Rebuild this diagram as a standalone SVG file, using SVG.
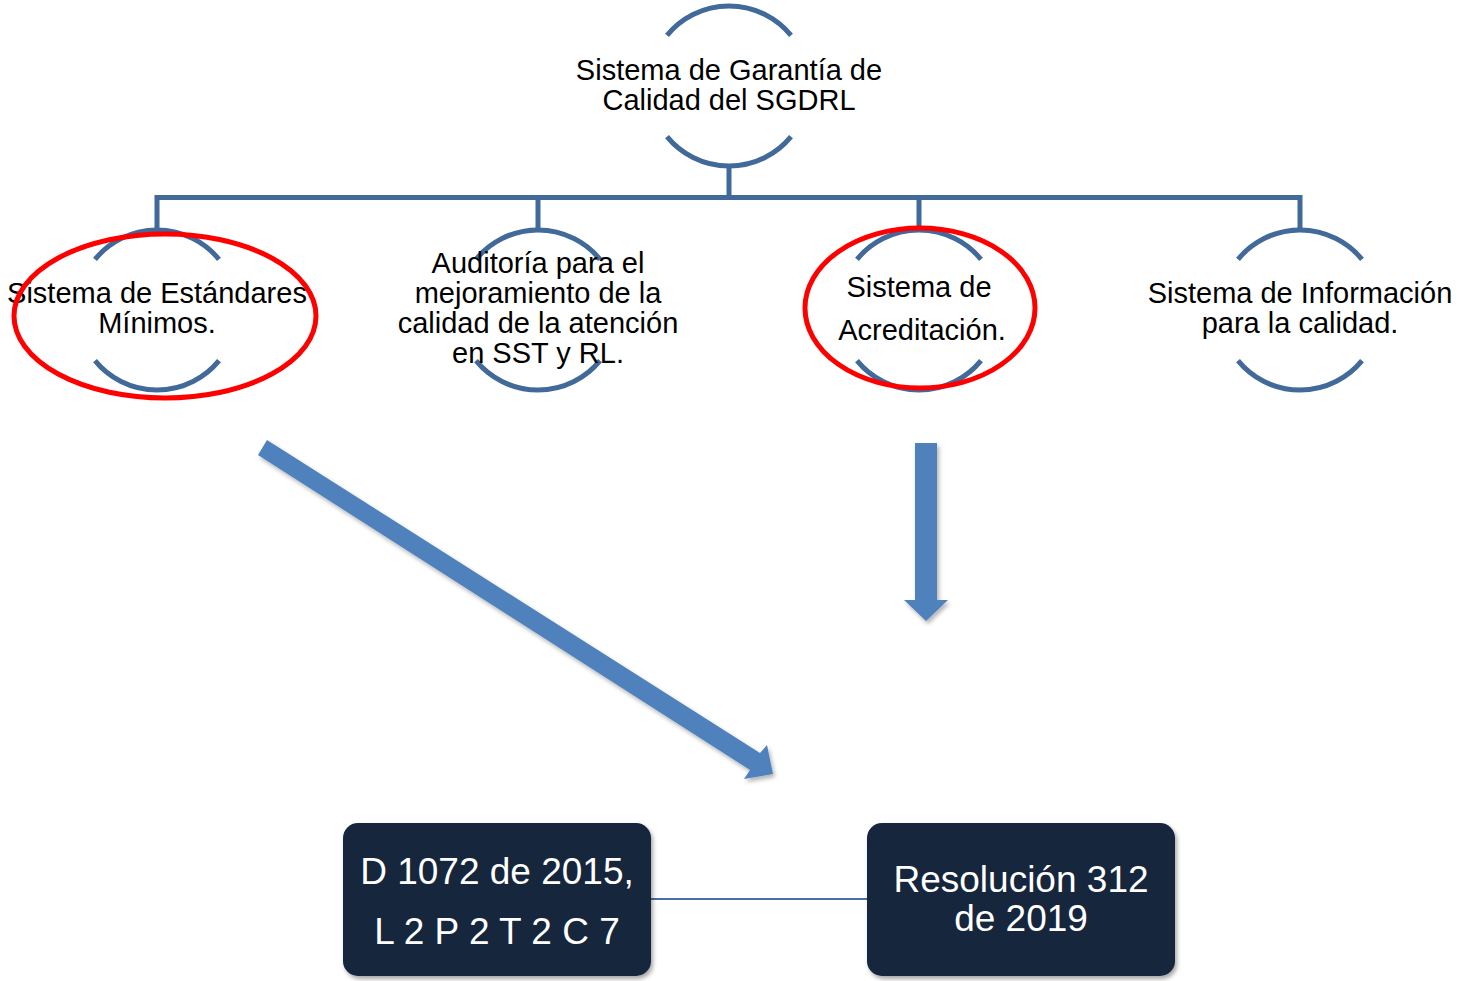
<svg xmlns="http://www.w3.org/2000/svg" width="1460" height="981" viewBox="0 0 1460 981">
<defs>
<style>
.arc{fill:none;stroke:#41699a;stroke-width:5}
.conn{fill:none;stroke:#41699a;stroke-width:5}
.lbl{font-family:"Liberation Sans",Arial,sans-serif;font-size:29px;fill:#000;text-anchor:middle}
.box{fill:#13253e;filter:url(#sh)}
.btxt{font-family:"Liberation Sans",Arial,sans-serif;font-size:37px;fill:#fff;text-anchor:middle}
.red{fill:none;stroke:#ff0000;stroke-width:5}
.arrow{fill:#4f81bd;filter:url(#sh2)}
</style>
<filter id="sh" x="-10%" y="-10%" width="120%" height="130%">
<feDropShadow dx="2" dy="3" stdDeviation="2" flood-color="#000" flood-opacity="0.35"/>
</filter>
<filter id="sh2" x="-10%" y="-10%" width="120%" height="120%">
<feDropShadow dx="2" dy="3" stdDeviation="2" flood-color="#000" flood-opacity="0.3"/>
</filter>
</defs>
<rect width="1460" height="981" fill="#fff"/>
<g id="connectors">
<path class="conn" d="M729 166 V197.5 M157 197.5 H1300 M157 195 V230 M538 195 V230 M919 195 V230 M1300 195 V230"/>
<line x1="651" y1="899" x2="867" y2="899" stroke="#4a6fa5" stroke-width="2"/>
</g>
<g id="node-top">
<path class="arc" d="M667 35.4 A80 80 0 0 1 791 35.4 M667 136.6 A80 80 0 0 0 791 136.6"/>
<text class="lbl" x="729" y="80">Sistema de Garantía de</text>
<text class="lbl" x="729" y="110">Calidad del SGDRL</text>
</g>
<g id="node-estandares">
<path class="arc" d="M95 259.4 A80 80 0 0 1 219 259.4 M95 360.6 A80 80 0 0 0 219 360.6"/>
<text class="lbl" x="157" y="303">Sistema de Estándares</text>
<text class="lbl" x="157" y="333">Mínimos.</text>
<ellipse class="red" cx="165" cy="316" rx="151" ry="82"/>
</g>
<g id="node-auditoria">
<path class="arc" d="M476 259.4 A80 80 0 0 1 600 259.4 M476 360.6 A80 80 0 0 0 600 360.6"/>
<text class="lbl" x="538" y="273">Auditoría para el</text>
<text class="lbl" x="538" y="303">mejoramiento de la</text>
<text class="lbl" x="538" y="333">calidad de la atención</text>
<text class="lbl" x="538" y="363">en SST y RL.</text>
</g>
<g id="node-acreditacion">
<path class="arc" d="M857 259.4 A80 80 0 0 1 981 259.4 M857 360.6 A80 80 0 0 0 981 360.6"/>
<text class="lbl" x="919" y="297">Sistema de</text>
<text class="lbl" x="922" y="340">Acreditación.</text>
<ellipse class="red" cx="920" cy="308" rx="115" ry="80"/>
</g>
<g id="node-informacion">
<path class="arc" d="M1238 259.4 A80 80 0 0 1 1362 259.4 M1238 360.6 A80 80 0 0 0 1362 360.6"/>
<text class="lbl" x="1300" y="303">Sistema de Información</text>
<text class="lbl" x="1300" y="333">para la calidad.</text>
</g>
<g id="arrow-diagonal">
<polygon class="arrow" points="267,440 760,753 767,745 773,774 744,779 750,770 258,455"/>
</g>
<g id="arrow-vertical">
<polygon class="arrow" points="915,443 937,443 937,600 948,600 926,621 904,600 915,600"/>
</g>
<g id="box-decreto">
<rect class="box" x="343" y="823" width="308" height="153" rx="15"/>
<text class="btxt" x="497" y="884">D 1072 de 2015,</text>
<text class="btxt" x="497" y="944">L 2 P 2 T 2 C 7</text>
</g>
<g id="box-resolucion">
<rect class="box" x="867" y="823" width="308" height="153" rx="15"/>
<text class="btxt" x="1021" y="892">Resolución 312</text>
<text class="btxt" x="1021" y="931">de 2019</text>
</g>
</svg>
